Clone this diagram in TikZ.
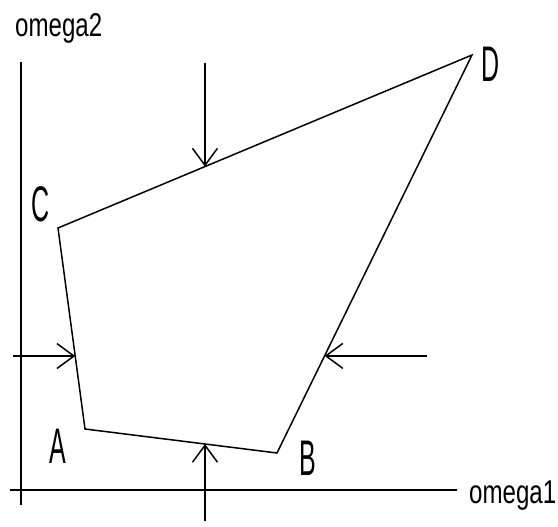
\documentclass[tikz,border=0pt]{standalone}
\usepackage{fontspec}
\usetikzlibrary{arrows.meta,calc}
\newfontfamily\axisfont[FakeStretch=0.73]{Liberation Sans}
\newfontfamily\vertexfont[FakeStretch=0.5]{Liberation Sans}
\tikzset{
  edge/.style={line width=1.5pt},
  pusher/.style={line width=1.5pt,-{Straight Barb[length=17pt,width=25pt]}},
  axislabel/.style={font=\axisfont\fontsize{33}{33}\selectfont,inner sep=0pt},
  vertexlabel/.style={font=\vertexfont\fontsize{50}{50}\selectfont,inner sep=0pt}
}
\begin{document}
\begin{tikzpicture}[x=1pt,y=-1pt]
  \useasboundingbox (0,0) rectangle (558,527);
  % axes
  \coordinate (yTop) at (21,62);
  \coordinate (yBot) at (21,505);
  \coordinate (xLeft) at (10,490);
  \coordinate (xRight) at (457,490);
  \draw[edge] (yBot) -- (yTop);
  \draw[edge] (xLeft) -- (xRight);
  \node[axislabel,anchor=base west] (w2) at (15,37) {omega2};
  \node[axislabel,anchor=base west] (w1) at (469,503) {omega1};
  % region
  \coordinate (A) at (85,429);
  \coordinate (B) at (277,453);
  \coordinate (C) at (58,228);
  \coordinate (D) at (472,55);
  \draw[edge,line join=miter] (A) -- (B) -- (D) -- (C) -- cycle;
  \node[vertexlabel] (lA) at (58,446) {A};
  \node[vertexlabel] (lB) at (308,458) {B};
  \node[vertexlabel] (lC) at (41,204) {C};
  \node[vertexlabel] (lD) at (491,64) {D};
  % loads on the edges
  \coordinate (pCD) at ($(C)!0.355!(D)$);
  \coordinate (pCA) at ($(C)!0.637!(A)$);
  \coordinate (pBD) at ($(B)!0.244!(D)$);
  \coordinate (pAB) at ($(A)!0.625!(B)$);
  \coordinate (tTop) at (pCD |- 0,63);
  \coordinate (tLeft) at (pCA -| 13,0);
  \coordinate (tRight) at (pBD -| 427,0);
  \coordinate (tBot) at (pAB |- 0,521);
  \draw[pusher] (tTop) -- (pCD);
  \draw[pusher] (tLeft) -- (pCA);
  \draw[pusher] (tRight) -- (pBD);
  \draw[pusher] (tBot) -- (pAB);
\end{tikzpicture}
\end{document}
